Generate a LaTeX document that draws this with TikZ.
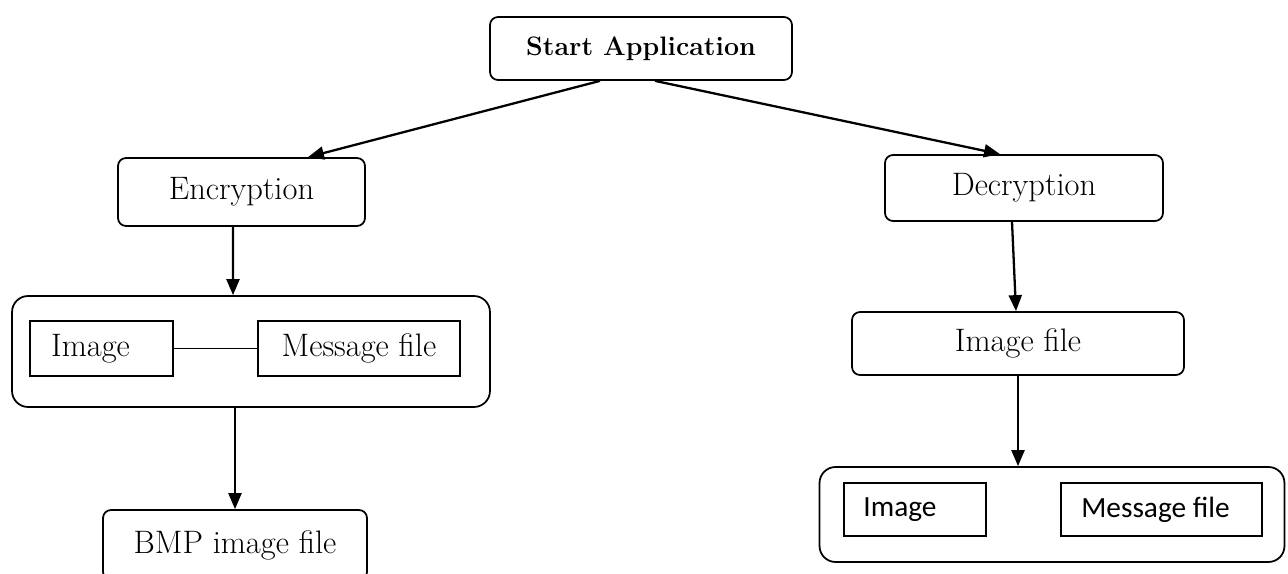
\documentclass[tikz,border=0pt]{standalone}
\usepackage{fontspec}
\newfontfamily\calibri{Carlito}
\usepackage{tikz}
\usetikzlibrary{arrows.meta,positioning}

\begin{document}
\begin{tikzpicture}[x=0.02cm, y=-0.02cm,
    box/.style={draw, rounded corners=0.16cm, line width=1pt, inner sep=0pt,
        font=\fontsize{18.5}{22}\selectfont},
    grp/.style={draw, rounded corners=0.32cm, line width=1pt, inner sep=0pt},
    sq/.style={draw, line width=0.8pt, inner sep=0pt,
        font=\fontsize{18.5}{22}\selectfont},
    sqsans/.style={sq, font=\calibri\fontsize{16.7}{20}\selectfont},
    >={Triangle[length=0.32cm,width=0.26cm]},
    arr/.style={->, line width=1.3pt}]
\useasboundingbox (0,0) rectangle (1288,574);

\node[box, minimum width=6.04cm, minimum height=1.26cm,
    font=\bfseries\fontsize{15.2}{18}\selectfont] (start) at (641,48.5) {Start Application};
\node[box, minimum width=4.94cm, minimum height=1.36cm] (enc) at (241.5,192) {Encryption};
\node[box, minimum width=5.56cm, minimum height=1.32cm] (dec) at (1024,188) {Decryption};

% encryption side
\node[grp, minimum width=9.56cm, minimum height=2.22cm] (encgrp) at (251,351.5) {};
\node[sq, minimum width=2.86cm, minimum height=1.10cm] (encimg) at (101.5,348.5) {Image\hspace*{0.44cm}};
\node[sq, minimum width=4.04cm, minimum height=1.10cm] (encmsg) at (359,348.5) {Message file};
\node[box, minimum width=5.28cm, minimum height=1.40cm] (bmp) at (235,545) {BMP image file};

% decryption side
\node[box, minimum width=6.64cm, minimum height=1.26cm] (imgfile) at (1018,343.5) {Image file};
\node[grp, minimum width=9.30cm, minimum height=1.90cm] (decgrp) at (1052,514.5) {};
\node[sqsans, minimum width=2.84cm, minimum height=1.06cm] (decimg) at (915,509.5) {Image\hspace*{0.6cm}};
\node[sqsans, minimum width=4.02cm, minimum height=1.06cm] (decmsg) at (1161.5,509.5) {Message file\hspace*{0.24cm}};

\draw[line width=0.8pt] (encimg) -- (encmsg);

\path[arr] ([xshift=-0.82cm]start.south) edge ([xshift=1.33cm]enc.north)
    ([xshift=0.28cm]start.south) edge ([xshift=-0.48cm]dec.north)
    ([xshift=-0.17cm]enc.south) edge ([xshift=-0.36cm]encgrp.north)
    (bmp.north |- encgrp.south) edge (bmp.north)
    ([xshift=-0.24cm]dec.south) edge ([xshift=-0.04cm]imgfile.north)
    (imgfile.south) edge (imgfile.south |- decgrp.north);
\end{tikzpicture}
\end{document}
